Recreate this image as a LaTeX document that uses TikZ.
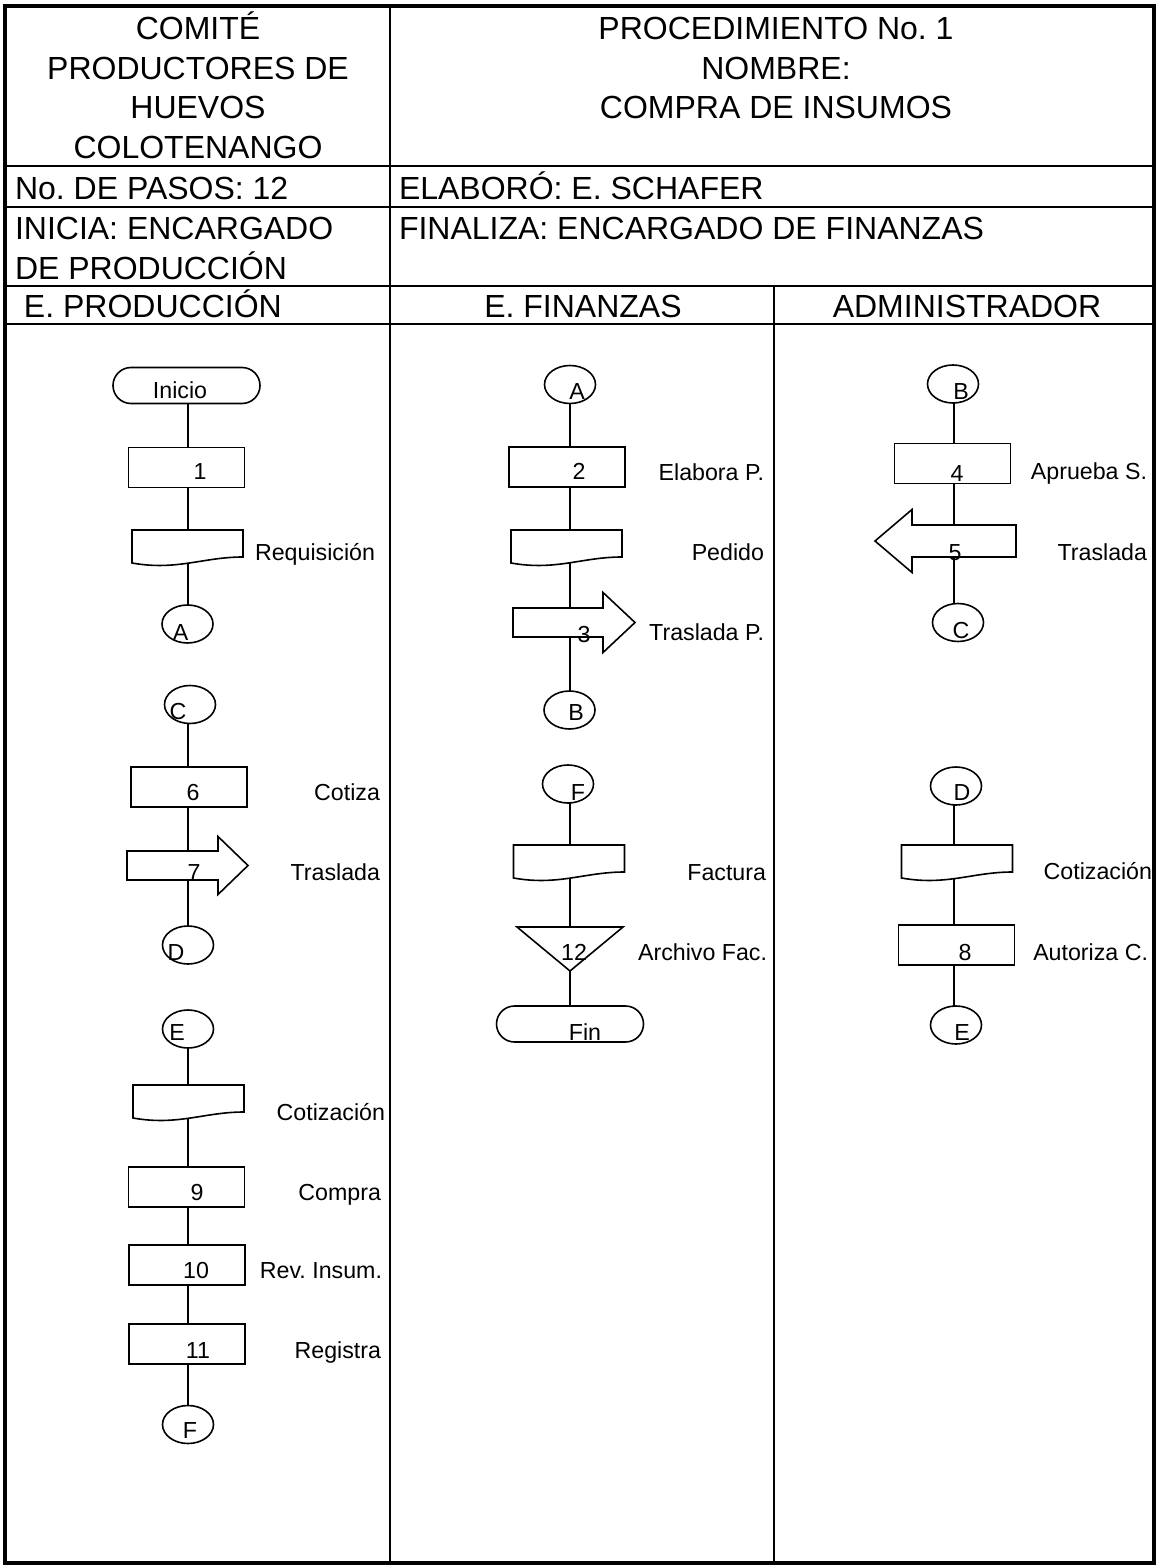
\documentclass[tikz,border=0pt]{standalone}
\usepackage{fontspec}
\setmainfont{Liberation Sans}
\usetikzlibrary{shapes.geometric,shapes.misc,calc}
\begin{document}
\frenchspacing
\begin{tikzpicture}[x=0.5pt,y=-0.5pt]
\tikzset{
 hdr/.style={font=\fontsize{16}{19}\selectfont, inner sep=0pt, outer sep=0pt},
 txt/.style={font=\fontsize{11.6}{14}\selectfont, inner sep=0pt, outer sep=0pt},
 frameline/.style={line width=2pt},
 gridline/.style={line width=1.4pt},
 shp/.style={draw, line width=0.8pt, inner sep=0pt, outer sep=0pt},
 procbox/.style={shp, rectangle, minimum width=58pt, minimum height=20pt},
 conn/.style={shp, ellipse, minimum width=25.5pt, minimum height=19pt},
 term/.style={shp, rounded rectangle, minimum width=73.5pt, minimum height=18pt},
 ghost/.style={rectangle, draw=none, inner sep=0pt, outer sep=0pt},
 docnode/.style={ghost, minimum width=55.5pt, minimum height=16.5pt},
 outline/.style={line width=0.8pt, line join=miter},
 link/.style={line width=0.8pt},
}
\useasboundingbox (0,0) rectangle (1158,1566);

% ---------- table ----------
\draw[gridline] (390,6) -- (390,1563);
\draw[gridline] (774,286) -- (774,1563);
\draw[gridline] (5,166) -- (1154,166);
\draw[gridline] (5,207) -- (1154,207);
\draw[gridline] (5,286) -- (1154,286);
\draw[gridline] (5,324) -- (1154,324);
\draw[frameline] (5,6) rectangle (1154,1563);

\node[hdr,anchor=base] (h1) at (198,40) {COMITÉ};
\node[hdr,anchor=base] (h2) at (198,79.5) {PRODUCTORES DE};
\node[hdr,anchor=base] (h3) at (198,119) {HUEVOS};
\node[hdr,anchor=base] (h4) at (198,158.5) {COLOTENANGO};
\node[hdr,anchor=base] (h5) at (776,40) {PROCEDIMIENTO No. 1};
\node[hdr,anchor=base] (h6) at (776,79.5) {NOMBRE:};
\node[hdr,anchor=base] (h7) at (776,119) {COMPRA DE INSUMOS};
\node[hdr,anchor=base west] (h8) at (15,200) {No. DE PASOS: 12};
\node[hdr,anchor=base west] (h9) at (399,200) {ELABORÓ: E. SCHAFER};
\node[hdr,anchor=base west] (h10) at (15,240) {INICIA: ENCARGADO};
\node[hdr,anchor=base west] (h11) at (15,280) {DE PRODUCCIÓN};
\node[hdr,anchor=base west] (h12) at (399,240) {FINALIZA: ENCARGADO DE FINANZAS};
\node[hdr,anchor=base west] (h13) at (24,318) {E. PRODUCCIÓN};
\node[hdr,anchor=base] (h14) at (583,318) {E. FINANZAS};
\node[hdr,anchor=base] (h15) at (967,318) {ADMINISTRADOR};

\coordinate (L1) at (188,0);
\coordinate (L2) at (570,0);
\coordinate (L3) at (954,0);

% ---------- lane 1 ----------
\node[term] (ini) at (186.5,385.5) {};
\node[txt,anchor=base] (tini) at (180,399) {Inicio};
\node[procbox] (p1) at (186.5,467.5) {};
\node[txt,anchor=base] (t1) at (200,480) {1};
\node[docnode] (d1) at (187.5,546.5) {};
\node[txt,anchor=base east] (td1) at (375,560) {Requisición};
\node[conn] (cA1) at (187.5,624) {};
\node[txt,anchor=base] (tA1) at (180.5,640) {A};

\node[conn] (cC1) at (190,704.5) {};
\node[txt,anchor=base] (tC1) at (178,719) {C};
\node[procbox] (p6) at (189,787) {};
\node[txt,anchor=base] (t6) at (193,800) {6};
\node[txt,anchor=base east] (tl6) at (380,800) {Cotiza};
\node[ghost,minimum width=45.5pt,minimum height=14.5pt] (a7) at (172.5,865.5) {};
\node[txt,anchor=base] (t7) at (194,880) {7};
\node[txt,anchor=base east] (tl7) at (380,880) {Traslada};
\node[conn] (cD1) at (188,945) {};
\node[txt,anchor=base] (tD1) at (176,960) {D};

\node[conn] (cE1) at (188,1029) {};
\node[txt,anchor=base] (tE1) at (177,1040) {E};
\node[docnode] (d2) at (188.5,1101.5) {};
\node[txt,anchor=base east] (td2) at (385,1120) {Cotización};
\node[procbox] (p9) at (186.5,1187) {};
\node[txt,anchor=base] (t9) at (197,1200) {9};
\node[txt,anchor=base east] (tl9) at (381,1200) {Compra};
\node[procbox] (p10) at (187,1265) {};
\node[txt,anchor=base] (t10) at (196,1278) {10};
\node[txt,anchor=base east] (tl10) at (382,1278) {Rev. Insum.};
\node[procbox] (p11) at (187,1344) {};
\node[txt,anchor=base] (t11) at (198,1358) {11};
\node[txt,anchor=base east] (tl11) at (381,1358) {Registra};
\node[conn] (cF1) at (188,1424.5) {};
\node[txt,anchor=base] (tF1) at (190,1438) {F};

% ---------- lane 2 ----------
\node[conn] (cA2) at (570,384.5) {};
\node[txt,anchor=base] (tA2) at (577,400) {A};
\node[procbox] (p2) at (567,467) {};
\node[txt,anchor=base] (t2) at (579,480) {2};
\node[txt,anchor=base east] (tl2) at (764,481) {Elabora P.};
\node[docnode] (d3) at (566.5,546.5) {};
\node[txt,anchor=base east] (td3) at (764,560) {Pedido};
\node[ghost,minimum width=45pt,minimum height=14.5pt] (a3) at (558,622.5) {};
\node[txt,anchor=base] (t3) at (584,642) {3};
\node[txt,anchor=base east] (tl3) at (764,640) {Traslada P.};
\node[conn] (cB2) at (569.5,710) {};
\node[txt,anchor=base] (tB2) at (576,720) {B};

\node[conn] (cF2) at (568,784) {};
\node[txt,anchor=base] (tF2) at (578,800) {F};
\node[docnode] (d4) at (569,861.5) {};
\node[txt,anchor=base east] (td4) at (766,880) {Factura};
\node[ghost,minimum width=53pt,minimum height=22pt] (tri) at (570,949) {};
\node[txt,anchor=base] (t12) at (574,960) {12};
\node[txt,anchor=base east] (tl12) at (767,960) {Archivo Fac.};
\node[term] (fin) at (570,1024) {};
\node[txt,anchor=base] (tfin) at (585,1040) {Fin};

% ---------- lane 3 ----------
\node[conn] (cB3) at (953,384) {};
\node[txt,anchor=base] (tB3) at (961,400) {B};
\node[procbox] (p4) at (952.5,463.5) {};
\node[txt,anchor=base] (t4) at (957,482) {4};
\node[txt,anchor=base east] (tl4) at (1147,480) {Aprueba S.};
\node[ghost,minimum width=52pt,minimum height=16pt] (a5) at (964,541) {};
\node[txt,anchor=base] (t5) at (955,560) {5};
\node[txt,anchor=base east] (tl5) at (1147,560) {Traslada};
\node[conn] (cC3) at (958,622.5) {};
\node[txt,anchor=base] (tC3) at (961,638) {C};

\node[conn] (cD3) at (956,786) {};
\node[txt,anchor=base] (tD3) at (962,800) {D};
\node[docnode] (d5) at (957,861.5) {};
\node[txt,anchor=base east] (td5) at (1152,879) {Cotización};
\node[procbox] (p8) at (956.5,945) {};
\node[txt,anchor=base] (t8) at (965,960) {8};
\node[txt,anchor=base east] (tl8) at (1148,960) {Autoriza C.};
\node[conn] (cE3) at (956,1025) {};
\node[txt,anchor=base] (tE3) at (962,1040) {E};

% ---------- custom outlines ----------
\foreach \dd in {d1,d2,d3,d4,d5}
  \draw[outline] (\dd.north west) -- (\dd.north east) -- ($(\dd.south east)+(0,-6)$)
    .. controls ($(\dd.south east)+(-40,-6)$) and ($(\dd.south west)+(45,8)$) .. (\dd.south west) -- cycle;
\draw[outline] (a7.north west) -- (a7.north east) -- ($(a7.north east)+(0,-14.5)$) -- ($(a7.east)+(30,0)$)
  -- ($(a7.south east)+(0,14.5)$) -- (a7.south east) -- (a7.south west) -- cycle;
\draw[outline] (a3.north west) -- (a3.north east) -- ($(a3.north east)+(0,-15.5)$) -- ($(a3.east)+(32,0)$)
  -- ($(a3.south east)+(0,15.5)$) -- (a3.south east) -- (a3.south west) -- cycle;
\draw[outline] (a5.north east) -- (a5.north west) -- ($(a5.north west)+(0,-15.5)$) -- ($(a5.west)+(-37,0)$)
  -- ($(a5.south west)+(0,15.5)$) -- (a5.south west) -- (a5.south east) -- cycle;
\draw[outline] (tri.north west) -- (tri.north east) -- (tri.south) -- cycle;

% ---------- connectors ----------
\draw[link] (L1 |- ini.south) -- (L1 |- p1.north);
\draw[link] (L1 |- p1.south) -- (L1 |- d1.north);
\draw[link] (L1 |- d1.south) -- (L1 |- cA1.north);
\draw[link] (L1 |- cC1.south) -- (L1 |- p6.north);
\draw[link] (L1 |- p6.south) -- (L1 |- a7.north);
\draw[link] (L1 |- a7.south) -- (L1 |- cD1.north);
\draw[link] (L1 |- cE1.south) -- (L1 |- d2.north);
\draw[link] (L1 |- d2.south) -- (L1 |- p9.north);
\draw[link] (L1 |- p9.south) -- (L1 |- p10.north);
\draw[link] (L1 |- p10.south) -- (L1 |- p11.north);
\draw[link] (L1 |- p11.south) -- (L1 |- cF1.north);

\draw[link] (L2 |- cA2.south) -- (L2 |- p2.north);
\draw[link] (L2 |- p2.south) -- (L2 |- d3.north);
\draw[link] (L2 |- d3.south) -- (L2 |- a3.north);
\draw[link] (L2 |- a3.south) -- (L2 |- cB2.north);
\draw[link] (L2 |- cF2.south) -- (L2 |- d4.north);
\draw[link] (L2 |- d4.south) -- (L2 |- tri.north);
\draw[link] (L2 |- tri.south) -- (L2 |- fin.north);

\draw[link] (L3 |- cB3.south) -- (L3 |- p4.north);
\draw[link] (L3 |- p4.south) -- (L3 |- a5.north);
\draw[link] (L3 |- a5.south) -- (L3 |- cC3.north);
\draw[link] (L3 |- cD3.south) -- (L3 |- d5.north);
\draw[link] (L3 |- d5.south) -- (L3 |- p8.north);
\draw[link] (L3 |- p8.south) -- (L3 |- cE3.north);
\end{tikzpicture}
\end{document}
